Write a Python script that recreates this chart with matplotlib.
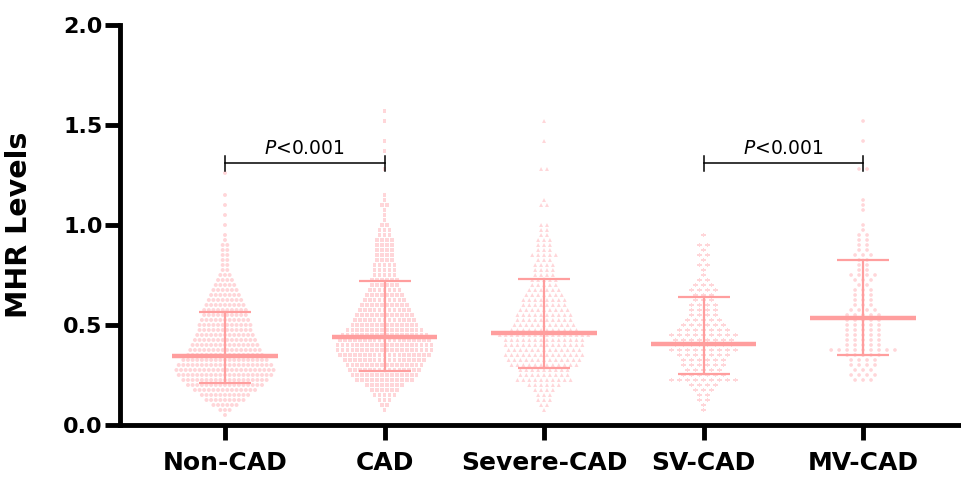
import numpy as np
import matplotlib
matplotlib.use("Agg")
import matplotlib.pyplot as plt

categories = ["Non-CAD", "CAD", "Severe-CAD", "SV-CAD", "MV-CAD"]

# Summary lines: median and interquartile range
medians = [0.345, 0.44, 0.46, 0.405, 0.535]
q1 = [0.21, 0.27, 0.285, 0.255, 0.35]
q3 = [0.565, 0.72, 0.73, 0.64, 0.825]

# Individual points, read as (MHR level, number of points at that level)
noncad_levels = [0.05, 0.075, 0.10, 0.125, 0.15, 0.175, 0.20, 0.225, 0.25, 0.275,
                 0.30, 0.325, 0.35, 0.375, 0.40, 0.425, 0.45, 0.475, 0.50, 0.525,
                 0.55, 0.575, 0.60, 0.625, 0.65, 0.675, 0.70, 0.725, 0.75, 0.775,
                 0.80, 0.825, 0.85, 0.875, 0.90, 0.925, 0.95, 1.00, 1.05, 1.10, 1.15, 1.26]
noncad_counts = [1, 3, 6, 9, 11, 14, 17, 19, 21, 22,
                 21, 19, 17, 16, 15, 14, 13, 12, 12, 11,
                 10, 10, 9, 8, 7, 6, 5, 4, 3, 2,
                 2, 2, 2, 2, 2, 1, 1, 1, 1, 1, 1, 1]

cad_levels = [0.075, 0.10, 0.125, 0.15, 0.175, 0.20, 0.225, 0.25, 0.275, 0.30,
              0.325, 0.35, 0.375, 0.40, 0.425, 0.45, 0.475, 0.50, 0.525, 0.55,
              0.575, 0.60, 0.625, 0.65, 0.675, 0.70, 0.725, 0.75, 0.775, 0.80,
              0.825, 0.85, 0.875, 0.90, 0.925, 0.95, 0.975, 1.00, 1.025, 1.05,
              1.075, 1.10, 1.125, 1.15, 1.28, 1.37, 1.42, 1.52, 1.57]
cad_counts = [1, 2, 3, 5, 6, 8, 12, 14, 15, 16,
              17, 19, 20, 20, 19, 18, 16, 14, 13, 12,
              11, 10, 9, 8, 7, 6, 6, 5, 5, 5,
              4, 4, 4, 4, 4, 3, 3, 2, 1, 1,
              1, 2, 1, 1, 1, 1, 1, 1, 1]

severe_levels = [0.075, 0.10, 0.125, 0.15, 0.175, 0.20, 0.225, 0.25, 0.275, 0.30,
                 0.325, 0.35, 0.375, 0.40, 0.425, 0.45, 0.475, 0.50, 0.525, 0.55,
                 0.575, 0.60, 0.625, 0.65, 0.675, 0.70, 0.725, 0.75, 0.775, 0.80,
                 0.825, 0.85, 0.875, 0.90, 0.925, 0.95, 0.975, 1.00, 1.10, 1.125,
                 1.28, 1.42, 1.52]
severe_counts = [1, 2, 3, 3, 4, 6, 10, 9, 9, 12,
                 13, 14, 13, 14, 14, 16, 12, 11, 10, 10,
                 9, 8, 8, 7, 6, 5, 5, 4, 4, 4,
                 3, 5, 3, 3, 3, 2, 2, 2, 2, 1,
                 2, 1, 1]

sv_levels = [0.075, 0.10, 0.125, 0.15, 0.175, 0.20, 0.225, 0.25, 0.275, 0.30,
             0.325, 0.35, 0.375, 0.40, 0.425, 0.45, 0.475, 0.50, 0.525, 0.55,
             0.575, 0.60, 0.625, 0.65, 0.675, 0.70, 0.725, 0.75, 0.775, 0.80,
             0.825, 0.85, 0.875, 0.90, 0.95]
sv_counts = [1, 1, 2, 2, 3, 4, 9, 6, 5, 6,
             6, 7, 9, 8, 8, 9, 7, 6, 5, 4,
             4, 4, 3, 3, 4, 3, 2, 1, 1, 2,
             1, 2, 1, 2, 1]

mv_levels = [0.225, 0.25, 0.275, 0.30, 0.325, 0.35, 0.375, 0.40, 0.425, 0.45,
             0.475, 0.50, 0.525, 0.55, 0.575, 0.60, 0.625, 0.65, 0.675, 0.70,
             0.725, 0.75, 0.775, 0.80, 0.825, 0.85, 0.875, 0.90, 0.925, 0.95,
             0.975, 1.00, 1.075, 1.10, 1.125, 1.28, 1.42, 1.52]
mv_counts = [3, 4, 3, 4, 4, 5, 9, 5, 5, 5,
             5, 5, 5, 5, 4, 3, 3, 3, 3, 2,
             3, 4, 2, 2, 2, 3, 2, 2, 2, 2,
             1, 1, 1, 1, 1, 2, 1, 1]

groups = [(noncad_levels, noncad_counts), (cad_levels, cad_counts),
          (severe_levels, severe_counts), (sv_levels, sv_counts),
          (mv_levels, mv_counts)]

# Styles
markers = ["o", "s", "^", "P", "o"]
msizes = [8, 7, 8, 11, 7]
spacing = [0.029, 0.031, 0.037, 0.050, 0.050]
dot_color = "#FFD6D9"
line_color = "#FF9E9E"

fig = plt.figure(figsize=(9.61, 4.78), dpi=100)
ax = fig.add_axes([0.1249, 0.1109, 0.8751, 0.8368])

for i, (levels, counts) in enumerate(groups):
    xs, ys = [], []
    for lv, n in zip(levels, counts):
        offs = (np.arange(n) - (n - 1) / 2.0) * spacing[i]
        xs.extend(i + offs)
        ys.extend([lv] * n)
    ax.scatter(xs, ys, s=msizes[i], marker=markers[i], color=dot_color,
               edgecolors="none", zorder=2)

for i in range(len(categories)):
    ax.plot([i - 0.332, i + 0.332], [medians[i], medians[i]], color=line_color,
            lw=3.2, solid_capstyle="butt", zorder=3)
    ax.plot([i, i], [q1[i], q3[i]], color=line_color, lw=1.6, zorder=3)
    for q in (q1[i], q3[i]):
        ax.plot([i - 0.163, i + 0.163], [q, q], color=line_color, lw=1.6,
                solid_capstyle="butt", zorder=3)

# Significance brackets
def bracket(x0, x1, y, text):
    ax.plot([x0, x1], [y, y], color="black", lw=1.1, zorder=4)
    for xx in (x0, x1):
        ax.plot([xx, xx], [y - 0.04, y + 0.035], color="black", lw=1.1, zorder=4)
    ax.text((x0 + x1) / 2, y + 0.045, text, ha="center", va="baseline",
            fontsize=13.5, family="DejaVu Sans", zorder=4)

bracket(0, 1, 1.31, r"$\it{P}$<0.001")
bracket(3, 4, 1.31, r"$\it{P}$<0.001")

ax.set_xlim(-0.658, 4.614)
ax.set_ylim(0, 2.0)
ax.set_yticks([0, 0.5, 1.0, 1.5, 2.0])
ax.set_yticklabels(["0.0", "0.5", "1.0", "1.5", "2.0"])
ax.set_xticks(range(len(categories)))
ax.set_xticklabels(categories)

for s in ("top", "right"):
    ax.spines[s].set_visible(False)
for s in ("left", "bottom"):
    ax.spines[s].set_linewidth(3.5)
    ax.spines[s].set_capstyle("projecting")

ax.tick_params(axis="both", width=3.5, length=10.5, color="black")
ax.tick_params(axis="y", pad=2)
ax.tick_params(axis="x", pad=8)
for lab in ax.get_yticklabels():
    lab.set_fontsize(16)
    lab.set_fontweight("bold")
    lab.set_family("DejaVu Sans")
for lab in ax.get_xticklabels():
    lab.set_fontsize(18)
    lab.set_fontweight("bold")
    lab.set_family("DejaVu Sans")

ax.set_ylabel("MHR Levels", fontsize=20.5, fontweight="bold", family="DejaVu Sans")
ax.yaxis.set_label_coords(-0.104, 0.5)

fig.savefig("out.png", dpi=100)
